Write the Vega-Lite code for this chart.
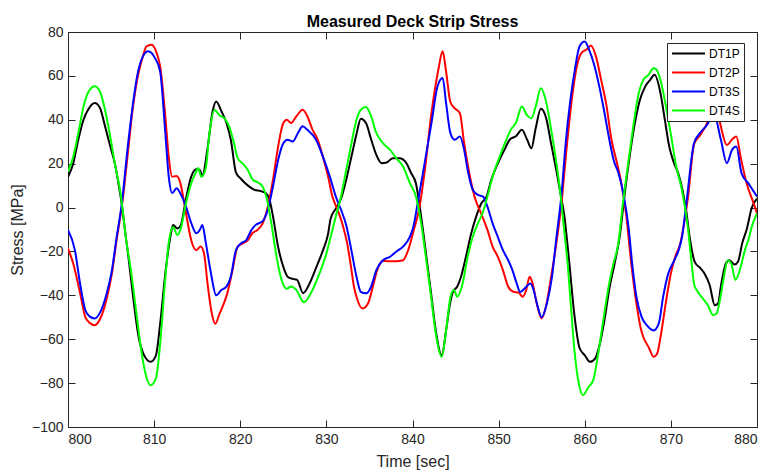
{
  "$schema": "https://vega.github.io/schema/vega-lite/v6.json",
  "width": 689,
  "height": 395,
  "autosize": {"type": "none"},
  "padding": {"left": 68, "top": 32, "right": 12, "bottom": 46},
  "background": "white",
  "title": {
    "text": "Measured Deck Strip Stress",
    "fontSize": 16,
    "fontWeight": "bold",
    "color": "#000000",
    "anchor": "middle",
    "baseline": "alphabetic",
    "offset": -18
  },
  "data": {
    "values": [
      {"s":"DT1P","t":800.0,"v":14},{"s":"DT1P","t":800.6,"v":20},{"s":"DT1P","t":801.2,"v":31},{"s":"DT1P","t":801.8,"v":40},{"s":"DT1P","t":802.4,"v":45},{"s":"DT1P","t":803.1,"v":47.6},{"s":"DT1P","t":803.7,"v":45.5},{"s":"DT1P","t":804.3,"v":37},{"s":"DT1P","t":804.9,"v":28},{"s":"DT1P","t":805.5,"v":19},{"s":"DT1P","t":805.9,"v":10},{"s":"DT1P","t":806.3,"v":0},{"s":"DT1P","t":806.6,"v":-10},{"s":"DT1P","t":807.0,"v":-22},{"s":"DT1P","t":807.6,"v":-42},{"s":"DT1P","t":808.2,"v":-59},{"s":"DT1P","t":808.8,"v":-67},{"s":"DT1P","t":809.6,"v":-70.3},{"s":"DT1P","t":810.2,"v":-67.5},{"s":"DT1P","t":810.7,"v":-53},{"s":"DT1P","t":811.3,"v":-30},{"s":"DT1P","t":811.9,"v":-13},{"s":"DT1P","t":812.2,"v":-8},{"s":"DT1P","t":812.7,"v":-9.5},{"s":"DT1P","t":813.1,"v":-8},{"s":"DT1P","t":813.7,"v":4},{"s":"DT1P","t":814.3,"v":14},{"s":"DT1P","t":814.9,"v":17.5},{"s":"DT1P","t":815.3,"v":17.2},{"s":"DT1P","t":815.6,"v":14.5},{"s":"DT1P","t":816.2,"v":27},{"s":"DT1P","t":816.8,"v":44},{"s":"DT1P","t":817.2,"v":48.3},{"s":"DT1P","t":817.8,"v":44},{"s":"DT1P","t":818.4,"v":38.5},{"s":"DT1P","t":818.9,"v":31},{"s":"DT1P","t":819.5,"v":16},{"s":"DT1P","t":820.1,"v":13},{"s":"DT1P","t":820.9,"v":10},{"s":"DT1P","t":821.6,"v":8.2},{"s":"DT1P","t":822.4,"v":7.5},{"s":"DT1P","t":823.0,"v":6.5},{"s":"DT1P","t":823.4,"v":3.5},{"s":"DT1P","t":823.8,"v":-4},{"s":"DT1P","t":824.4,"v":-18},{"s":"DT1P","t":825.0,"v":-27},{"s":"DT1P","t":825.5,"v":-31.5},{"s":"DT1P","t":826.1,"v":-32.5},{"s":"DT1P","t":826.6,"v":-33},{"s":"DT1P","t":827.3,"v":-39},{"s":"DT1P","t":828.0,"v":-35},{"s":"DT1P","t":828.8,"v":-27.5},{"s":"DT1P","t":829.6,"v":-19.5},{"s":"DT1P","t":830.2,"v":-12},{"s":"DT1P","t":830.5,"v":-5},{"s":"DT1P","t":831.1,"v":-0.5},{"s":"DT1P","t":831.7,"v":4},{"s":"DT1P","t":832.3,"v":12.6},{"s":"DT1P","t":832.9,"v":23},{"s":"DT1P","t":833.5,"v":33.5},{"s":"DT1P","t":834.0,"v":40.5},{"s":"DT1P","t":834.6,"v":38.5},{"s":"DT1P","t":835.2,"v":31},{"s":"DT1P","t":835.8,"v":24},{"s":"DT1P","t":836.4,"v":20.2},{"s":"DT1P","t":837.0,"v":20.5},{"s":"DT1P","t":837.7,"v":22.5},{"s":"DT1P","t":838.5,"v":22.5},{"s":"DT1P","t":839.3,"v":20.2},{"s":"DT1P","t":839.8,"v":16},{"s":"DT1P","t":840.4,"v":11},{"s":"DT1P","t":841.0,"v":-4},{"s":"DT1P","t":841.6,"v":-22},{"s":"DT1P","t":842.2,"v":-40.5},{"s":"DT1P","t":842.7,"v":-56},{"s":"DT1P","t":843.4,"v":-67.3},{"s":"DT1P","t":843.9,"v":-56},{"s":"DT1P","t":844.3,"v":-45},{"s":"DT1P","t":844.7,"v":-38.4},{"s":"DT1P","t":845.2,"v":-36},{"s":"DT1P","t":845.6,"v":-32},{"s":"DT1P","t":846.2,"v":-22.5},{"s":"DT1P","t":846.8,"v":-12},{"s":"DT1P","t":847.4,"v":-4},{"s":"DT1P","t":848.0,"v":2},{"s":"DT1P","t":848.6,"v":5},{"s":"DT1P","t":849.1,"v":12},{"s":"DT1P","t":849.9,"v":20},{"s":"DT1P","t":850.7,"v":26.5},{"s":"DT1P","t":851.3,"v":31},{"s":"DT1P","t":852.0,"v":32.5},{"s":"DT1P","t":852.7,"v":35.4},{"s":"DT1P","t":853.3,"v":31},{"s":"DT1P","t":853.8,"v":27},{"s":"DT1P","t":854.3,"v":36},{"s":"DT1P","t":854.9,"v":45},{"s":"DT1P","t":855.5,"v":41},{"s":"DT1P","t":856.1,"v":29},{"s":"DT1P","t":856.7,"v":17},{"s":"DT1P","t":857.3,"v":4},{"s":"DT1P","t":857.6,"v":-3},{"s":"DT1P","t":858.2,"v":-25},{"s":"DT1P","t":858.8,"v":-49},{"s":"DT1P","t":859.4,"v":-64},{"s":"DT1P","t":860.0,"v":-67.3},{"s":"DT1P","t":860.6,"v":-70.3},{"s":"DT1P","t":861.2,"v":-68.8},{"s":"DT1P","t":861.7,"v":-63},{"s":"DT1P","t":862.3,"v":-51},{"s":"DT1P","t":862.9,"v":-36},{"s":"DT1P","t":863.5,"v":-25},{"s":"DT1P","t":864.1,"v":-12},{"s":"DT1P","t":864.6,"v":5},{"s":"DT1P","t":865.2,"v":23},{"s":"DT1P","t":865.8,"v":38},{"s":"DT1P","t":866.4,"v":49},{"s":"DT1P","t":867.0,"v":55},{"s":"DT1P","t":867.6,"v":58.2},{"s":"DT1P","t":868.1,"v":60.5},{"s":"DT1P","t":868.8,"v":52},{"s":"DT1P","t":869.3,"v":40},{"s":"DT1P","t":869.8,"v":28},{"s":"DT1P","t":870.3,"v":21},{"s":"DT1P","t":870.9,"v":15},{"s":"DT1P","t":871.4,"v":7},{"s":"DT1P","t":871.8,"v":-2},{"s":"DT1P","t":872.2,"v":-14},{"s":"DT1P","t":872.8,"v":-25},{"s":"DT1P","t":873.4,"v":-27.5},{"s":"DT1P","t":873.9,"v":-30},{"s":"DT1P","t":874.5,"v":-35.3},{"s":"DT1P","t":875.1,"v":-44.5},{"s":"DT1P","t":875.5,"v":-43.5},{"s":"DT1P","t":875.8,"v":-36},{"s":"DT1P","t":876.4,"v":-25.4},{"s":"DT1P","t":876.8,"v":-24},{"s":"DT1P","t":877.4,"v":-26},{"s":"DT1P","t":877.8,"v":-24.6},{"s":"DT1P","t":878.3,"v":-16},{"s":"DT1P","t":878.8,"v":-10},{"s":"DT1P","t":879.4,"v":0},{"s":"DT1P","t":880.0,"v":4},

      {"s":"DT2P","t":800.0,"v":-18.6},{"s":"DT2P","t":800.6,"v":-25.4},{"s":"DT2P","t":801.4,"v":-39},{"s":"DT2P","t":802.0,"v":-49.8},{"s":"DT2P","t":802.5,"v":-52.5},{"s":"DT2P","t":803.1,"v":-53.6},{"s":"DT2P","t":803.7,"v":-51},{"s":"DT2P","t":804.5,"v":-41.4},{"s":"DT2P","t":805.1,"v":-30},{"s":"DT2P","t":805.6,"v":-16},{"s":"DT2P","t":806.3,"v":2},{"s":"DT2P","t":806.9,"v":23},{"s":"DT2P","t":807.5,"v":44.5},{"s":"DT2P","t":808.1,"v":59.7},{"s":"DT2P","t":808.7,"v":68.9},{"s":"DT2P","t":809.1,"v":73.4},{"s":"DT2P","t":809.7,"v":74.2},{"s":"DT2P","t":810.3,"v":70.4},{"s":"DT2P","t":810.7,"v":64.3},{"s":"DT2P","t":811.3,"v":41.5},{"s":"DT2P","t":811.7,"v":23},{"s":"DT2P","t":812.1,"v":14},{"s":"DT2P","t":812.6,"v":14.4},{"s":"DT2P","t":813.0,"v":11.8},{"s":"DT2P","t":813.5,"v":2},{"s":"DT2P","t":813.9,"v":-7},{"s":"DT2P","t":814.3,"v":-14.8},{"s":"DT2P","t":814.9,"v":-19.4},{"s":"DT2P","t":815.4,"v":-17.8},{"s":"DT2P","t":815.8,"v":-21},{"s":"DT2P","t":816.2,"v":-34.6},{"s":"DT2P","t":816.7,"v":-48.3},{"s":"DT2P","t":817.1,"v":-53},{"s":"DT2P","t":817.6,"v":-48.3},{"s":"DT2P","t":818.1,"v":-43.7},{"s":"DT2P","t":818.5,"v":-39},{"s":"DT2P","t":819.1,"v":-28.5},{"s":"DT2P","t":819.7,"v":-17.8},{"s":"DT2P","t":820.3,"v":-16.3},{"s":"DT2P","t":820.9,"v":-14.8},{"s":"DT2P","t":821.4,"v":-11.7},{"s":"DT2P","t":822.0,"v":-10.2},{"s":"DT2P","t":822.6,"v":-7.2},{"s":"DT2P","t":823.2,"v":0.4},{"s":"DT2P","t":823.8,"v":12.6},{"s":"DT2P","t":824.4,"v":27.8},{"s":"DT2P","t":825.0,"v":38.5},{"s":"DT2P","t":825.4,"v":40},{"s":"DT2P","t":825.9,"v":38.5},{"s":"DT2P","t":826.5,"v":41.5},{"s":"DT2P","t":827.25,"v":44.6},{"s":"DT2P","t":827.8,"v":41.5},{"s":"DT2P","t":828.4,"v":35.4},{"s":"DT2P","t":829.0,"v":30.9},{"s":"DT2P","t":829.6,"v":23.2},{"s":"DT2P","t":830.2,"v":14.1},{"s":"DT2P","t":830.7,"v":5},{"s":"DT2P","t":831.3,"v":-1},{"s":"DT2P","t":831.9,"v":-8},{"s":"DT2P","t":832.4,"v":-16},{"s":"DT2P","t":832.8,"v":-25.4},{"s":"DT2P","t":833.2,"v":-36},{"s":"DT2P","t":833.6,"v":-42},{"s":"DT2P","t":834.2,"v":-46},{"s":"DT2P","t":834.8,"v":-44},{"s":"DT2P","t":835.4,"v":-36},{"s":"DT2P","t":835.9,"v":-28.5},{"s":"DT2P","t":836.5,"v":-24.3},{"s":"DT2P","t":837.3,"v":-24.5},{"s":"DT2P","t":838.1,"v":-24.5},{"s":"DT2P","t":838.9,"v":-24},{"s":"DT2P","t":839.5,"v":-19.4},{"s":"DT2P","t":840.1,"v":-11},{"s":"DT2P","t":840.8,"v":0},{"s":"DT2P","t":841.4,"v":16},{"s":"DT2P","t":842.2,"v":43},{"s":"DT2P","t":843.0,"v":62.8},{"s":"DT2P","t":843.5,"v":71.2},{"s":"DT2P","t":843.9,"v":62},{"s":"DT2P","t":844.4,"v":48},{"s":"DT2P","t":844.9,"v":45.3},{"s":"DT2P","t":845.5,"v":43},{"s":"DT2P","t":846.0,"v":29.3},{"s":"DT2P","t":846.6,"v":15.6},{"s":"DT2P","t":847.2,"v":5},{"s":"DT2P","t":848.0,"v":-3},{"s":"DT2P","t":848.7,"v":-10.2},{"s":"DT2P","t":849.3,"v":-17.8},{"s":"DT2P","t":849.9,"v":-22.4},{"s":"DT2P","t":850.5,"v":-28.5},{"s":"DT2P","t":851.1,"v":-36},{"s":"DT2P","t":851.7,"v":-38.4},{"s":"DT2P","t":852.3,"v":-38.7},{"s":"DT2P","t":852.8,"v":-40.7},{"s":"DT2P","t":853.2,"v":-37.6},{"s":"DT2P","t":853.6,"v":-31.5},{"s":"DT2P","t":853.9,"v":-34},{"s":"DT2P","t":854.5,"v":-45},{"s":"DT2P","t":855.0,"v":-50.5},{"s":"DT2P","t":855.5,"v":-45},{"s":"DT2P","t":856.1,"v":-31.5},{"s":"DT2P","t":856.7,"v":-16.3},{"s":"DT2P","t":857.3,"v":2},{"s":"DT2P","t":857.8,"v":23.2},{"s":"DT2P","t":858.4,"v":46},{"s":"DT2P","t":859.0,"v":62.8},{"s":"DT2P","t":859.6,"v":70.4},{"s":"DT2P","t":860.2,"v":72},{"s":"DT2P","t":860.7,"v":73.8},{"s":"DT2P","t":861.3,"v":68.9},{"s":"DT2P","t":861.9,"v":58.2},{"s":"DT2P","t":862.5,"v":47},{"s":"DT2P","t":863.1,"v":31},{"s":"DT2P","t":863.7,"v":21},{"s":"DT2P","t":864.3,"v":10},{"s":"DT2P","t":864.8,"v":-3},{"s":"DT2P","t":865.4,"v":-25.4},{"s":"DT2P","t":866.0,"v":-43.7},{"s":"DT2P","t":866.5,"v":-55},{"s":"DT2P","t":866.8,"v":-59},{"s":"DT2P","t":867.4,"v":-63.5},{"s":"DT2P","t":868.0,"v":-68},{"s":"DT2P","t":868.4,"v":-66.6},{"s":"DT2P","t":868.8,"v":-59},{"s":"DT2P","t":869.4,"v":-43.7},{"s":"DT2P","t":870.0,"v":-30},{"s":"DT2P","t":870.5,"v":-22.4},{"s":"DT2P","t":871.1,"v":-16.3},{"s":"DT2P","t":871.5,"v":-8},{"s":"DT2P","t":872.0,"v":5},{"s":"DT2P","t":872.7,"v":29},{"s":"DT2P","t":873.4,"v":33},{"s":"DT2P","t":874.2,"v":38.5},{"s":"DT2P","t":874.7,"v":44.5},{"s":"DT2P","t":875.0,"v":46},{"s":"DT2P","t":875.4,"v":44},{"s":"DT2P","t":875.8,"v":37},{"s":"DT2P","t":876.5,"v":28.5},{"s":"DT2P","t":877.1,"v":31},{"s":"DT2P","t":877.6,"v":32.4},{"s":"DT2P","t":878.1,"v":23},{"s":"DT2P","t":878.8,"v":11},{"s":"DT2P","t":879.6,"v":2},{"s":"DT2P","t":880.0,"v":-2.6},

      {"s":"DT3S","t":800.0,"v":-10.2},{"s":"DT3S","t":800.8,"v":-19.4},{"s":"DT3S","t":801.4,"v":-34.6},{"s":"DT3S","t":802.0,"v":-46.7},{"s":"DT3S","t":802.5,"v":-49.6},{"s":"DT3S","t":803.1,"v":-50.5},{"s":"DT3S","t":803.7,"v":-48},{"s":"DT3S","t":804.5,"v":-39},{"s":"DT3S","t":805.1,"v":-28.5},{"s":"DT3S","t":805.6,"v":-14.8},{"s":"DT3S","t":806.3,"v":3.5},{"s":"DT3S","t":806.9,"v":26.3},{"s":"DT3S","t":807.5,"v":46},{"s":"DT3S","t":808.1,"v":61.3},{"s":"DT3S","t":808.7,"v":68.9},{"s":"DT3S","t":809.3,"v":71.2},{"s":"DT3S","t":810.1,"v":68.1},{"s":"DT3S","t":810.7,"v":62},{"s":"DT3S","t":811.3,"v":34},{"s":"DT3S","t":811.7,"v":14},{"s":"DT3S","t":812.1,"v":6.6},{"s":"DT3S","t":812.6,"v":8.8},{"s":"DT3S","t":813.1,"v":6},{"s":"DT3S","t":813.7,"v":0.4},{"s":"DT3S","t":814.3,"v":-7},{"s":"DT3S","t":814.9,"v":-11.7},{"s":"DT3S","t":815.3,"v":-10.2},{"s":"DT3S","t":815.6,"v":-8},{"s":"DT3S","t":816.0,"v":-16},{"s":"DT3S","t":816.6,"v":-30},{"s":"DT3S","t":817.2,"v":-40},{"s":"DT3S","t":817.8,"v":-37.6},{"s":"DT3S","t":818.4,"v":-36},{"s":"DT3S","t":818.9,"v":-31.5},{"s":"DT3S","t":819.5,"v":-19.4},{"s":"DT3S","t":820.1,"v":-16.3},{"s":"DT3S","t":820.7,"v":-14.8},{"s":"DT3S","t":821.3,"v":-10.2},{"s":"DT3S","t":821.8,"v":-7.9},{"s":"DT3S","t":822.6,"v":-6.2},{"s":"DT3S","t":823.2,"v":-1},{"s":"DT3S","t":823.8,"v":9.6},{"s":"DT3S","t":824.4,"v":21.7},{"s":"DT3S","t":825.0,"v":29.3},{"s":"DT3S","t":825.5,"v":30.9},{"s":"DT3S","t":826.1,"v":30.1},{"s":"DT3S","t":826.7,"v":34},{"s":"DT3S","t":827.25,"v":37},{"s":"DT3S","t":827.8,"v":35.4},{"s":"DT3S","t":828.8,"v":30.9},{"s":"DT3S","t":829.6,"v":23.2},{"s":"DT3S","t":830.4,"v":14.1},{"s":"DT3S","t":831.1,"v":5},{"s":"DT3S","t":831.7,"v":-1},{"s":"DT3S","t":832.3,"v":-8},{"s":"DT3S","t":832.9,"v":-19.4},{"s":"DT3S","t":833.5,"v":-31.5},{"s":"DT3S","t":834.0,"v":-38.4},{"s":"DT3S","t":834.6,"v":-39.1},{"s":"DT3S","t":835.2,"v":-36},{"s":"DT3S","t":835.8,"v":-28.5},{"s":"DT3S","t":836.6,"v":-23.9},{"s":"DT3S","t":837.4,"v":-22.4},{"s":"DT3S","t":838.1,"v":-20.1},{"s":"DT3S","t":838.9,"v":-17.8},{"s":"DT3S","t":839.7,"v":-13.3},{"s":"DT3S","t":840.1,"v":-8.7},{"s":"DT3S","t":840.6,"v":2},{"s":"DT3S","t":841.4,"v":20},{"s":"DT3S","t":842.2,"v":38.5},{"s":"DT3S","t":842.9,"v":55.2},{"s":"DT3S","t":843.5,"v":59},{"s":"DT3S","t":843.9,"v":47.6},{"s":"DT3S","t":844.4,"v":33.9},{"s":"DT3S","t":844.9,"v":30.9},{"s":"DT3S","t":845.5,"v":32.4},{"s":"DT3S","t":846.0,"v":26.3},{"s":"DT3S","t":846.4,"v":17.2},{"s":"DT3S","t":847.0,"v":8.1},{"s":"DT3S","t":847.6,"v":5.8},{"s":"DT3S","t":848.2,"v":5},{"s":"DT3S","t":848.7,"v":0.4},{"s":"DT3S","t":849.3,"v":-7.2},{"s":"DT3S","t":849.9,"v":-13.3},{"s":"DT3S","t":850.5,"v":-19.4},{"s":"DT3S","t":851.1,"v":-23.9},{"s":"DT3S","t":851.6,"v":-28.5},{"s":"DT3S","t":852.1,"v":-34.6},{"s":"DT3S","t":852.5,"v":-38.5},{"s":"DT3S","t":853.1,"v":-36.5},{"s":"DT3S","t":853.7,"v":-34.6},{"s":"DT3S","t":854.0,"v":-36.8},{"s":"DT3S","t":854.5,"v":-44.5},{"s":"DT3S","t":855.0,"v":-50},{"s":"DT3S","t":855.6,"v":-43.7},{"s":"DT3S","t":856.2,"v":-31.5},{"s":"DT3S","t":856.7,"v":-14},{"s":"DT3S","t":857.3,"v":6},{"s":"DT3S","t":857.8,"v":30},{"s":"DT3S","t":858.3,"v":48},{"s":"DT3S","t":858.9,"v":64},{"s":"DT3S","t":859.4,"v":73.5},{"s":"DT3S","t":860.0,"v":75.7},{"s":"DT3S","t":860.5,"v":72},{"s":"DT3S","t":861.1,"v":65},{"s":"DT3S","t":861.7,"v":55},{"s":"DT3S","t":862.3,"v":43},{"s":"DT3S","t":862.9,"v":30},{"s":"DT3S","t":863.4,"v":21},{"s":"DT3S","t":863.9,"v":16},{"s":"DT3S","t":864.5,"v":6},{"s":"DT3S","t":865.1,"v":-9.5},{"s":"DT3S","t":865.5,"v":-25.4},{"s":"DT3S","t":866.0,"v":-40.7},{"s":"DT3S","t":866.6,"v":-49.8},{"s":"DT3S","t":867.2,"v":-53.6},{"s":"DT3S","t":868.0,"v":-56},{"s":"DT3S","t":868.6,"v":-52.8},{"s":"DT3S","t":869.1,"v":-40.7},{"s":"DT3S","t":869.7,"v":-30},{"s":"DT3S","t":870.3,"v":-24.8},{"s":"DT3S","t":870.9,"v":-19.4},{"s":"DT3S","t":871.3,"v":-13.3},{"s":"DT3S","t":871.8,"v":2},{"s":"DT3S","t":872.7,"v":29.5},{"s":"DT3S","t":873.4,"v":34},{"s":"DT3S","t":874.2,"v":37.7},{"s":"DT3S","t":875.0,"v":42.5},{"s":"DT3S","t":875.8,"v":31},{"s":"DT3S","t":876.5,"v":20.2},{"s":"DT3S","t":877.1,"v":26.3},{"s":"DT3S","t":877.6,"v":27.8},{"s":"DT3S","t":878.2,"v":15.7},{"s":"DT3S","t":879.0,"v":11},{"s":"DT3S","t":880.0,"v":5},

      {"s":"DT4S","t":800.0,"v":16.4},{"s":"DT4S","t":800.6,"v":23},{"s":"DT4S","t":801.2,"v":34},{"s":"DT4S","t":801.8,"v":46},{"s":"DT4S","t":802.4,"v":52.9},{"s":"DT4S","t":803.1,"v":55.3},{"s":"DT4S","t":803.7,"v":53},{"s":"DT4S","t":804.3,"v":44.5},{"s":"DT4S","t":804.9,"v":32.4},{"s":"DT4S","t":805.5,"v":18.7},{"s":"DT4S","t":806.1,"v":6.5},{"s":"DT4S","t":806.4,"v":-3},{"s":"DT4S","t":806.8,"v":-16},{"s":"DT4S","t":807.3,"v":-28.5},{"s":"DT4S","t":808.0,"v":-50},{"s":"DT4S","t":808.5,"v":-65},{"s":"DT4S","t":809.0,"v":-75.7},{"s":"DT4S","t":809.6,"v":-81},{"s":"DT4S","t":810.2,"v":-78},{"s":"DT4S","t":810.7,"v":-62},{"s":"DT4S","t":811.3,"v":-32},{"s":"DT4S","t":811.7,"v":-16},{"s":"DT4S","t":812.2,"v":-9},{"s":"DT4S","t":812.7,"v":-12.5},{"s":"DT4S","t":813.1,"v":-9.5},{"s":"DT4S","t":813.7,"v":2},{"s":"DT4S","t":814.3,"v":11},{"s":"DT4S","t":814.9,"v":16.4},{"s":"DT4S","t":815.1,"v":18},{"s":"DT4S","t":815.5,"v":14},{"s":"DT4S","t":816.0,"v":18},{"s":"DT4S","t":816.4,"v":33},{"s":"DT4S","t":817.0,"v":44.6},{"s":"DT4S","t":817.6,"v":42},{"s":"DT4S","t":818.2,"v":40.5},{"s":"DT4S","t":818.7,"v":37},{"s":"DT4S","t":819.3,"v":29},{"s":"DT4S","t":819.7,"v":22.5},{"s":"DT4S","t":820.3,"v":20},{"s":"DT4S","t":820.9,"v":17},{"s":"DT4S","t":821.4,"v":13},{"s":"DT4S","t":822.0,"v":11.5},{"s":"DT4S","t":822.6,"v":9.5},{"s":"DT4S","t":823.2,"v":2},{"s":"DT4S","t":823.6,"v":-7},{"s":"DT4S","t":824.2,"v":-22},{"s":"DT4S","t":824.8,"v":-33},{"s":"DT4S","t":825.4,"v":-37},{"s":"DT4S","t":825.9,"v":-36},{"s":"DT4S","t":826.5,"v":-37.5},{"s":"DT4S","t":827.4,"v":-43.2},{"s":"DT4S","t":828.2,"v":-39},{"s":"DT4S","t":829.2,"v":-30},{"s":"DT4S","t":830.0,"v":-21},{"s":"DT4S","t":830.5,"v":-13.3},{"s":"DT4S","t":831.1,"v":-4},{"s":"DT4S","t":831.7,"v":5},{"s":"DT4S","t":832.3,"v":17},{"s":"DT4S","t":832.9,"v":29},{"s":"DT4S","t":833.5,"v":40},{"s":"DT4S","t":834.0,"v":44.6},{"s":"DT4S","t":834.6,"v":45.8},{"s":"DT4S","t":835.2,"v":41.5},{"s":"DT4S","t":835.8,"v":34},{"s":"DT4S","t":836.6,"v":29.3},{"s":"DT4S","t":837.4,"v":26.3},{"s":"DT4S","t":838.1,"v":22.5},{"s":"DT4S","t":838.9,"v":18.7},{"s":"DT4S","t":839.7,"v":11.1},{"s":"DT4S","t":840.4,"v":5},{"s":"DT4S","t":841.0,"v":-7},{"s":"DT4S","t":841.6,"v":-24},{"s":"DT4S","t":842.2,"v":-42},{"s":"DT4S","t":842.7,"v":-57.4},{"s":"DT4S","t":843.4,"v":-68},{"s":"DT4S","t":843.9,"v":-56},{"s":"DT4S","t":844.4,"v":-41},{"s":"DT4S","t":844.8,"v":-37.6},{"s":"DT4S","t":845.2,"v":-40.6},{"s":"DT4S","t":845.8,"v":-35},{"s":"DT4S","t":846.4,"v":-22.4},{"s":"DT4S","t":847.0,"v":-13.3},{"s":"DT4S","t":847.6,"v":-7.2},{"s":"DT4S","t":848.2,"v":-1.8},{"s":"DT4S","t":848.7,"v":5},{"s":"DT4S","t":849.3,"v":14},{"s":"DT4S","t":850.1,"v":23},{"s":"DT4S","t":850.9,"v":31},{"s":"DT4S","t":851.5,"v":36},{"s":"DT4S","t":852.0,"v":38.5},{"s":"DT4S","t":852.7,"v":46},{"s":"DT4S","t":853.3,"v":42},{"s":"DT4S","t":853.8,"v":40.7},{"s":"DT4S","t":854.3,"v":46},{"s":"DT4S","t":854.9,"v":54.4},{"s":"DT4S","t":855.5,"v":48.5},{"s":"DT4S","t":856.1,"v":35.5},{"s":"DT4S","t":856.7,"v":20.5},{"s":"DT4S","t":857.3,"v":2},{"s":"DT4S","t":857.6,"v":-10},{"s":"DT4S","t":858.0,"v":-25},{"s":"DT4S","t":858.4,"v":-45},{"s":"DT4S","t":858.8,"v":-65},{"s":"DT4S","t":859.3,"v":-80},{"s":"DT4S","t":859.8,"v":-85.5},{"s":"DT4S","t":860.4,"v":-82},{"s":"DT4S","t":861.0,"v":-78.5},{"s":"DT4S","t":861.5,"v":-68},{"s":"DT4S","t":862.1,"v":-52.8},{"s":"DT4S","t":862.7,"v":-37.6},{"s":"DT4S","t":863.3,"v":-26},{"s":"DT4S","t":863.9,"v":-16.3},{"s":"DT4S","t":864.4,"v":1},{"s":"DT4S","t":865.0,"v":19},{"s":"DT4S","t":865.6,"v":36},{"s":"DT4S","t":866.2,"v":51},{"s":"DT4S","t":866.8,"v":58.2},{"s":"DT4S","t":867.4,"v":60.5},{"s":"DT4S","t":868.0,"v":63.5},{"s":"DT4S","t":868.3,"v":63},{"s":"DT4S","t":868.8,"v":58},{"s":"DT4S","t":869.5,"v":44.5},{"s":"DT4S","t":870.1,"v":31},{"s":"DT4S","t":870.6,"v":19},{"s":"DT4S","t":871.2,"v":9.5},{"s":"DT4S","t":871.6,"v":1},{"s":"DT4S","t":872.0,"v":-10},{"s":"DT4S","t":872.4,"v":-25},{"s":"DT4S","t":872.7,"v":-35},{"s":"DT4S","t":873.0,"v":-37.6},{"s":"DT4S","t":873.7,"v":-41.4},{"s":"DT4S","t":874.3,"v":-44.5},{"s":"DT4S","t":874.9,"v":-49},{"s":"DT4S","t":875.3,"v":-48.3},{"s":"DT4S","t":875.7,"v":-42},{"s":"DT4S","t":876.1,"v":-33},{"s":"DT4S","t":876.6,"v":-24},{"s":"DT4S","t":877.0,"v":-25.4},{"s":"DT4S","t":877.5,"v":-33},{"s":"DT4S","t":878.0,"v":-28.5},{"s":"DT4S","t":878.6,"v":-19.4},{"s":"DT4S","t":879.1,"v":-13.3},{"s":"DT4S","t":879.4,"v":-8.7},{"s":"DT4S","t":880.0,"v":-2.6}
    ]
  },
  "layer": [
    {
      "mark": {"type": "line", "strokeWidth": 2, "interpolate": "monotone", "clip": true},
      "encoding": {
        "x": {
          "field": "t",
          "type": "quantitative",
          "scale": {"domain": [800, 880], "nice": false, "zero": false},
          "axis": {
            "orient": "bottom",
            "title": "Time [sec]",
            "values": [800, 810, 820, 830, 840, 850, 860, 870, 880],
            "labelPadding": 12,
            "titlePadding": 7
          }
        },
        "y": {
          "field": "v",
          "type": "quantitative",
          "scale": {"domain": [-100, 80], "nice": false, "zero": false},
          "axis": {
            "orient": "left",
            "title": "Stress [MPa]",
            "values": [-100, -80, -60, -40, -20, 0, 20, 40, 60, 80],
            "labelPadding": 12,
            "titlePadding": 6
          }
        },
        "color": {
          "field": "s",
          "type": "nominal",
          "scale": {
            "domain": ["DT1P", "DT2P", "DT3S", "DT4S"],
            "range": ["#000000", "#ff0000", "#0000ff", "#00ff00"]
          },
          "legend": {
            "title": null,
            "orient": "none",
            "legendX": 599,
            "legendY": 11,
            "symbolType": "M-3,0H3",
            "symbolSize": 121,
            "symbolStrokeWidth": 2,
            "symbolOffset": 11,
            "labelOffset": 14,
            "labelFontSize": 12,
            "labelColor": "#000000",
            "rowPadding": 6,
            "padding": 4,
            "strokeColor": "#262626",
            "fillColor": "#ffffff"
          }
        }
      }
    },
    {
      "mark": {"type": "line", "opacity": 0},
      "encoding": {
        "x": {
          "field": "t",
          "type": "quantitative",
          "axis": {"orient": "top", "title": null, "labels": false, "values": [800, 810, 820, 830, 840, 850, 860, 870, 880]}
        },
        "y": {
          "field": "v",
          "type": "quantitative",
          "axis": {"orient": "right", "title": null, "labels": false, "values": [-100, -80, -60, -40, -20, 0, 20, 40, 60, 80]}
        },
        "detail": {"field": "s"}
      }
    }
  ],
  "resolve": {"axis": {"x": "independent", "y": "independent"}},
  "config": {
    "font": "Liberation Sans",
    "view": {"stroke": null},
    "axis": {
      "grid": false,
      "domainColor": "#262626",
      "domainWidth": 1,
      "tickColor": "#262626",
      "tickWidth": 1,
      "tickSize": -7,
      "labelColor": "#262626",
      "labelFontSize": 14,
      "titleColor": "#262626",
      "titleFontSize": 16,
      "titleFontWeight": "normal"
    }
  }
}
